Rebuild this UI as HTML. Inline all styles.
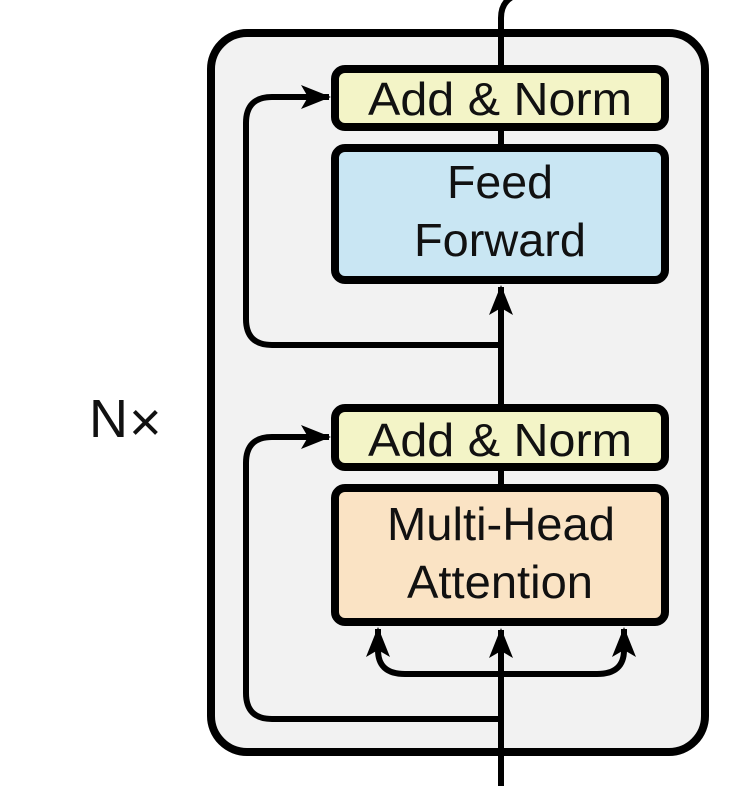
<!DOCTYPE html>
<html><head><meta charset="utf-8"><style>
html,body{margin:0;padding:0;background:#fff;}
svg{display:block;}
text{font-family:"Liberation Sans",sans-serif;fill:#111;}
</style></head><body>
<svg width="732" height="786" viewBox="0 0 732 786" xmlns="http://www.w3.org/2000/svg">
<defs>
<marker id="ah" viewBox="0 0 30 24" refX="28" refY="12" markerWidth="30" markerHeight="24" markerUnits="userSpaceOnUse" orient="auto">
<path d="M0,0 L30,12 L0,24 L7,12 Z" fill="#000"/>
</marker>
</defs>
<rect x="211" y="33" width="494" height="719" rx="36" fill="#f2f2f2" stroke="#000" stroke-width="8"/>
<path d="M501,66 L501,18 Q501,2 514,-4" fill="none" stroke="#000" stroke-width="6"/>
<path d="M501,786 L501,630" fill="none" stroke="#000" stroke-width="6" marker-end="url(#ah)"/>
<path d="M501,674 L405,674 Q378,674 378,650 L378,629" fill="none" stroke="#000" stroke-width="6" marker-end="url(#ah)"/>
<path d="M501,674 L597,674 Q624,674 624,650 L624,629" fill="none" stroke="#000" stroke-width="6" marker-end="url(#ah)"/>
<path d="M501,719 L272,719 Q246,719 246,693 L246,463 Q246,437 272,437 L329,437" fill="none" stroke="#000" stroke-width="6" marker-end="url(#ah)"/>
<path d="M501,485 L501,470" stroke="#000" stroke-width="6"/>
<path d="M501,405 L501,287" fill="none" stroke="#000" stroke-width="6" marker-end="url(#ah)"/>
<path d="M501,345 L272,345 Q246,345 246,319 L246,123 Q246,97 272,97 L329,97" fill="none" stroke="#000" stroke-width="6" marker-end="url(#ah)"/>
<path d="M501,145 L501,130" stroke="#000" stroke-width="6"/>
<rect x="335" y="69" width="330" height="58" rx="10" fill="#f3f4c7" stroke="#000" stroke-width="8"/>
<text x="368" y="115" font-size="46" textLength="264" lengthAdjust="spacingAndGlyphs">Add &amp; Norm</text>
<rect x="335" y="148" width="330" height="132" rx="10" fill="#c9e6f3" stroke="#000" stroke-width="8"/>
<text x="447" y="198" font-size="46" textLength="106" lengthAdjust="spacingAndGlyphs">Feed</text>
<text x="414" y="256" font-size="46" textLength="172" lengthAdjust="spacingAndGlyphs">Forward</text>
<rect x="335" y="408" width="330" height="59" rx="10" fill="#f3f4c7" stroke="#000" stroke-width="8"/>
<text x="368" y="456" font-size="46" textLength="264" lengthAdjust="spacingAndGlyphs">Add &amp; Norm</text>
<rect x="335" y="488" width="330" height="134" rx="10" fill="#fae3c4" stroke="#000" stroke-width="8"/>
<text x="387" y="540" font-size="46" textLength="228" lengthAdjust="spacingAndGlyphs">Multi-Head</text>
<text x="407" y="598" font-size="46" textLength="186" lengthAdjust="spacingAndGlyphs">Attention</text>
<text x="89" y="437" font-size="54">N</text>
<text x="129" y="441" font-size="56">×</text>
</svg>
</body></html>
